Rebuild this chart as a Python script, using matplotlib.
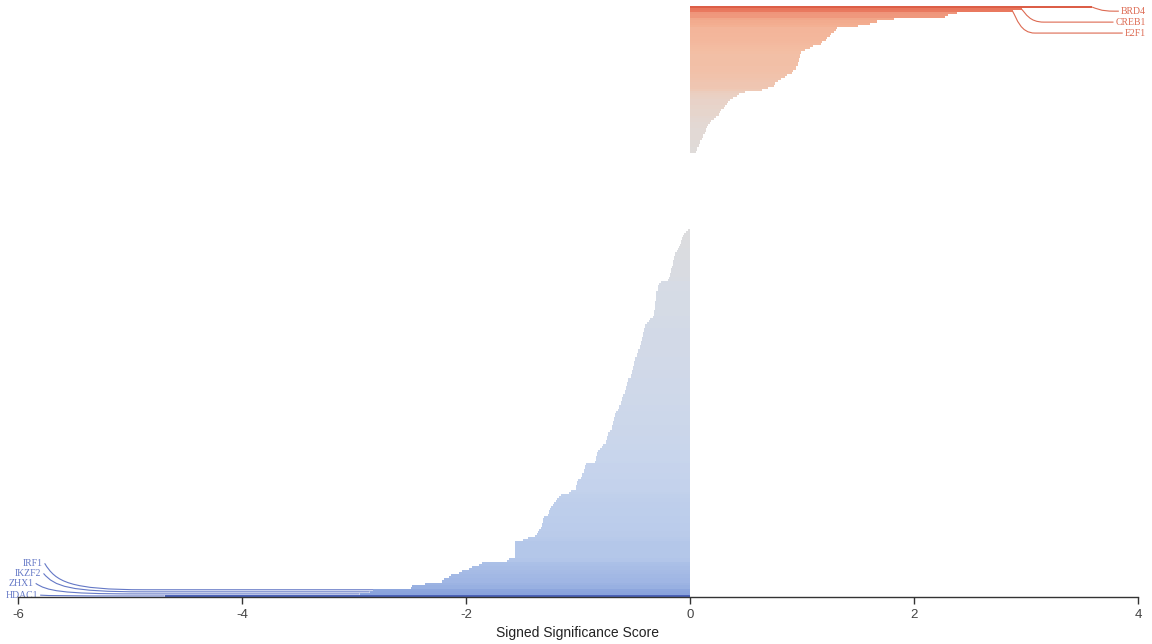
import matplotlib
matplotlib.use("Agg")
import matplotlib.pyplot as plt
from matplotlib.path import Path
from matplotlib.patches import PathPatch
from matplotlib.colors import LinearSegmentedColormap, Normalize
import numpy as np

plt.rcParams['font.family'] = ['Liberation Sans', 'DejaVu Sans']
plt.rcParams['axes.unicode_minus'] = False

# ranked TF scores, strongest positive first
pos_scores = [3.59, 2.96, 2.88, 2.38, 2.30, 2.28, 1.82, 1.67, 1.61, 1.50,
              1.31, 1.30, 1.29, 1.26, 1.25, 1.22, 1.21, 1.18, 1.17, 1.10,
              1.07, 1.03, 0.99, 0.98, 0.98, 0.97, 0.97, 0.96, 0.96, 0.95,
              0.95, 0.92, 0.91, 0.87, 0.85, 0.81, 0.79, 0.76, 0.75, 0.70,
              0.64, 0.49, 0.44, 0.42, 0.38, 0.36, 0.34, 0.33, 0.31, 0.30,
              0.28, 0.27, 0.26, 0.23, 0.21, 0.19, 0.18, 0.16, 0.15, 0.14,
              0.14, 0.13, 0.12, 0.12, 0.11, 0.09, 0.09, 0.08, 0.06, 0.06,
              0.05]
pos_labels = ['BRD4', 'CREB1', 'E2F1']

# negative side, weakest first so the strongest end up at the bottom
neg_scores = [-0.02, -0.04,
              -0.05, -0.06, -0.07, -0.08, -0.08, -0.09, -0.10, -0.11, -0.12,
              -0.13, -0.13, -0.14, -0.14, -0.15, -0.15, -0.15, -0.16,
              -0.17, -0.17, -0.18, -0.18, -0.19, -0.20,
              -0.26, -0.28, -0.29, -0.29,
              -0.29, -0.30, -0.30, -0.30, -0.30, -0.30, -0.31, -0.31, -0.31,
              -0.31, -0.32, -0.32, -0.32, -0.33,
              -0.36, -0.37, -0.38,
              -0.40, -0.40, -0.41, -0.41, -0.42, -0.42, -0.43, -0.43,
              -0.44, -0.44, -0.45, -0.45, -0.46, -0.46, -0.47, -0.47,
              -0.49, -0.49, -0.50, -0.50, -0.51, -0.51, -0.52, -0.52, -0.53, -0.53,
              -0.55, -0.55, -0.56, -0.56, -0.57, -0.57, -0.58, -0.58,
              -0.60, -0.61, -0.61, -0.62, -0.62, -0.63, -0.63, -0.64,
              -0.66, -0.67, -0.67, -0.68, -0.68, -0.69, -0.69, -0.70, -0.70, -0.71,
              -0.73, -0.73, -0.74, -0.74, -0.75, -0.75,
              -0.78, -0.79, -0.80,
              -0.82, -0.83, -0.83, -0.84, -0.84, -0.85,
              -0.93, -0.94, -0.94, -0.95, -0.95, -0.96, -0.96, -0.97,
              -1.00, -1.01, -1.01, -1.02, -1.02,
              -1.06, -1.08,
              -1.15, -1.17,
              -1.19, -1.20, -1.21, -1.22,
              -1.24, -1.25, -1.26, -1.26, -1.27,
              -1.30, -1.31, -1.31, -1.32, -1.32, -1.33,
              -1.35, -1.36,
              -1.37, -1.38, -1.45, -1.49,
              -1.56, -1.56, -1.56, -1.56, -1.56, -1.56, -1.56, -1.56,
              -1.62, -1.63,
              -1.86, -1.88,
              -1.95, -1.97,
              -2.04, -2.06,
              -2.13, -2.15,
              -2.20, -2.21,
              -2.37,
              -2.48, -2.49,
              -2.83, -2.86, -2.95, -4.69]
neg_labels = ['IRF1', 'IKZF2', 'ZHX1', 'HDAC1']

# TFs in between with no signal, left blank
n_neutral = 37

n_pos = len(pos_scores)
n_neg = len(neg_scores)
scores = np.array(pos_scores + neg_scores)
ranks = np.concatenate([np.arange(n_pos),
                        n_pos + n_neutral + np.arange(n_neg)])
n_rows = n_pos + n_neutral + n_neg

cmap = LinearSegmentedColormap.from_list('sig', [
    (0.00, '#4b62b8'), (0.20, '#8ea7de'), (0.29, '#a8bde6'),
    (0.36, '#bccdeb'), (0.41, '#c8d5ec'), (0.47, '#d6dbe5'),
    (0.50, '#dddcdc'), (0.52, '#e4d8d2'), (0.56, '#edcbba'),
    (0.61, '#f3bda3'), (0.66, '#f3b093'), (0.75, '#ef977c'),
    (0.81, '#e9785e'), (0.88, '#dc5f48'), (1.00, '#c8432e')])
vmax = np.abs(scores).max()
norm = Normalize(-vmax, vmax)

fig = plt.figure(figsize=(11.52, 6.44), dpi=100)
ax = fig.add_axes([18 / 1152, 47 / 644, 1120 / 1152, 591 / 644])

ax.barh(ranks, scores, height=1.0, color=cmap(norm(scores)), linewidth=0)

ax.set_xlim(-6, 4)
ax.set_ylim(n_rows - 0.5, -0.5)
ax.set_yticks([])
for s in ['left', 'top', 'right']:
    ax.spines[s].set_visible(False)
ax.spines['bottom'].set_color('#333333')
ax.spines['bottom'].set_linewidth(1.0)
ax.spines['bottom'].set_zorder(5)
ax.set_xticks([-6, -4, -2, 0, 2, 4])
ax.tick_params(axis='x', length=5, width=1, color='#333333',
               labelsize=9.5, labelcolor='#444444', pad=4)
ax.set_xlabel('Signed Significance Score', fontsize=10, color='#222222',
              labelpad=3)

# labels for the top hits
pos_color = '#dd6a52'
neg_color = '#6478c6'
label_font = dict(family=['Liberation Serif', 'DejaVu Serif'], fontsize=7)

pos_texts = []
for i, name in enumerate(pos_labels):
    t = ax.text(4.07, 2.0 + i * 5.3, name, ha='right', va='center',
                color=pos_color, clip_on=False, **label_font)
    pos_texts.append(t)

neg_text_x = [-5.78, -5.79, -5.86, -5.82]
neg_text_y = [269.2, 274.1, 278.9, 284.6]
neg_texts = []
for name, tx, ty in zip(neg_labels, neg_text_x, neg_text_y):
    t = ax.text(tx, ty, name, ha='right', va='center',
                color=neg_color, clip_on=False, **label_font)
    neg_texts.append(t)

fig.canvas.draw()
renderer = fig.canvas.get_renderer()
inv = ax.transData.inverted()


def leader(verts, color):
    codes = [Path.MOVETO, Path.CURVE4, Path.CURVE4, Path.CURVE4, Path.LINETO]
    ax.add_patch(PathPatch(Path(verts, codes), facecolor='none',
                           edgecolor=color, linewidth=0.8, clip_on=False,
                           zorder=6))


for i, t in enumerate(pos_texts):
    bb = t.get_window_extent(renderer)
    x_end = inv.transform((bb.x0 - 2, 0))[0]
    xb, yb = pos_scores[i], i
    yl = t.get_position()[1]
    leader([(xb, yb), (xb + 0.04, yb + 0.35 * (yl - yb)),
            (xb + 0.07, yl), (xb + 0.2, yl), (x_end, yl)], pos_color)

for k, t in enumerate(neg_texts):
    bb = t.get_window_extent(renderer)
    xs = inv.transform((bb.x1 + 2, 0))[0]
    yl = t.get_position()[1]
    j = n_neg - len(neg_labels) + k
    xb, yr = neg_scores[j], n_pos + n_neutral + j
    leader([(xs, yl), (xs + 0.1, yl + 0.7 * (yr - yl)),
            (xs + 0.22, yr), (xs + 0.9, yr), (xb, yr)], neg_color)

fig.savefig('out.png', dpi=100, facecolor='white')
